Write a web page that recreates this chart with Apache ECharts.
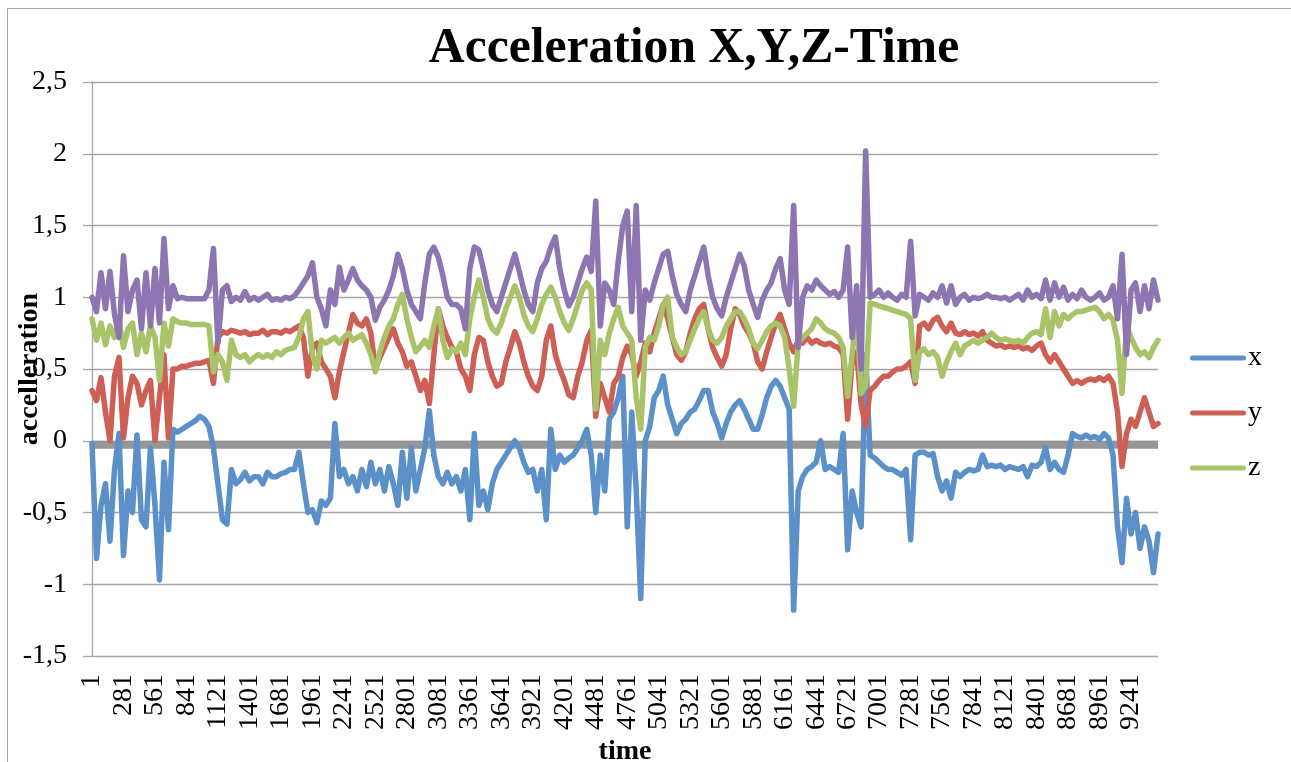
<!DOCTYPE html>
<html><head><meta charset="utf-8">
<script src="https://cdn.jsdelivr.net/npm/echarts@6/dist/echarts.min.js"></script>
<style>html,body{margin:0;padding:0;background:#fff}#c{width:1291px;height:762px}</style>
</head><body><div id="c"></div>
<script>
// sample numbers (time index), every 40th sample
const categories = [
1,41,81,121,161,201,241,281,321,361,
401,441,481,521,561,601,641,681,721,761,
801,841,881,921,961,1001,1041,1081,1121,1161,
1201,1241,1281,1321,1361,1401,1441,1481,1521,1561,
1601,1641,1681,1721,1761,1801,1841,1881,1921,1961,
2001,2041,2081,2121,2161,2201,2241,2281,2321,2361,
2401,2441,2481,2521,2561,2601,2641,2681,2721,2761,
2801,2841,2881,2921,2961,3001,3041,3081,3121,3161,
3201,3241,3281,3321,3361,3401,3441,3481,3521,3561,
3601,3641,3681,3721,3761,3801,3841,3881,3921,3961,
4001,4041,4081,4121,4161,4201,4241,4281,4321,4361,
4401,4441,4481,4521,4561,4601,4641,4681,4721,4761,
4801,4841,4881,4921,4961,5001,5041,5081,5121,5161,
5201,5241,5281,5321,5361,5401,5441,5481,5521,5561,
5601,5641,5681,5721,5761,5801,5841,5881,5921,5961,
6001,6041,6081,6121,6161,6201,6241,6281,6321,6361,
6401,6441,6481,6521,6561,6601,6641,6681,6721,6761,
6801,6841,6881,6921,6961,7001,7041,7081,7121,7161,
7201,7241,7281,7321,7361,7401,7441,7481,7521,7561,
7601,7641,7681,7721,7761,7801,7841,7881,7921,7961,
8001,8041,8081,8121,8161,8201,8241,8281,8321,8361,
8401,8441,8481,8521,8561,8601,8641,8681,8721,8761,
8801,8841,8881,8921,8961,9001,9041,9081,9121,9161,
9201,9241,9281,9321,9361,9401,9441,9481
].map(String);

const xTickLabels = ['1','281','561','841','1121','1401','1681','1961','2241','2521','2801','3081','3361','3641','3921','4201','4481','4761','5041','5321','5601','5881','6161','6441','6721','7001','7281','7561','7841','8121','8401','8681','8961','9241'];
const yTickLabels = {'-1.5':'-1,5','-1':'-1','-0.5':'-0,5','0':'0','0.5':'0,5','1':'1','1.5':'1,5','2':'2','2.5':'2,5'};

const accX = [
-0.02,-0.82,-0.45,-0.3,-0.7,-0.2,0.05,-0.8,-0.35,-0.5,
0.04,-0.55,-0.6,-0.05,-0.45,-0.97,-0.15,-0.62,0.08,0.06,
0.08,0.1,0.12,0.14,0.17,0.15,0.1,-0.05,-0.3,-0.55,
-0.58,-0.2,-0.3,-0.27,-0.22,-0.28,-0.25,-0.25,-0.3,-0.22,
-0.25,-0.25,-0.23,-0.22,-0.2,-0.2,-0.08,-0.3,-0.5,-0.48,
-0.57,-0.42,-0.45,-0.4,0.12,-0.25,-0.2,-0.3,-0.25,-0.35,
-0.2,-0.32,-0.15,-0.3,-0.2,-0.35,-0.18,-0.3,-0.45,-0.08,
-0.4,-0.05,-0.35,-0.2,-0.05,0.21,-0.1,-0.25,-0.3,-0.22,
-0.3,-0.25,-0.35,-0.2,-0.55,0.05,-0.45,-0.35,-0.48,-0.3,
-0.2,-0.15,-0.1,-0.05,0.0,-0.05,-0.15,-0.22,-0.2,-0.35,
-0.2,-0.55,0.08,-0.2,-0.1,-0.15,-0.12,-0.1,-0.05,0.0,
0.08,-0.1,-0.5,-0.1,-0.35,0.15,0.2,0.3,0.45,-0.6,
0.2,-0.35,-1.1,0.0,0.1,0.3,0.35,0.45,0.25,0.15,
0.05,0.12,0.15,0.2,0.22,0.28,0.35,0.35,0.2,0.12,
0.02,0.12,0.2,0.25,0.28,0.22,0.15,0.08,0.08,0.18,
0.3,0.38,0.42,0.38,0.3,0.22,-1.18,-0.35,-0.25,-0.2,
-0.18,-0.15,0.0,-0.2,-0.18,-0.2,-0.22,0.05,-0.76,-0.35,
-0.5,-0.6,0.6,-0.1,-0.12,-0.15,-0.18,-0.2,-0.2,-0.22,
-0.24,-0.2,-0.69,-0.1,-0.08,-0.08,-0.1,-0.09,-0.25,-0.35,
-0.28,-0.4,-0.22,-0.25,-0.22,-0.2,-0.21,-0.2,-0.1,-0.18,
-0.17,-0.18,-0.17,-0.2,-0.18,-0.19,-0.2,-0.18,-0.25,-0.17,
-0.18,-0.15,-0.05,-0.2,-0.15,-0.2,-0.22,-0.1,0.05,0.03,
0.02,0.04,0.02,0.03,0.01,0.05,0.02,-0.1,-0.6,-0.85,
-0.4,-0.65,-0.5,-0.75,-0.6,-0.7,-0.92,-0.65
];
const accY = [
0.35,0.28,0.44,0.2,0.0,0.45,0.58,0.02,0.3,0.45,
0.4,0.25,0.35,0.42,0.0,0.3,0.6,0.02,0.5,0.5,
0.52,0.52,0.53,0.54,0.54,0.55,0.56,0.4,0.72,0.76,
0.75,0.77,0.76,0.75,0.76,0.74,0.75,0.75,0.77,0.74,
0.76,0.76,0.75,0.77,0.76,0.78,0.8,0.72,0.45,0.65,
0.68,0.55,0.5,0.45,0.3,0.48,0.62,0.75,0.88,0.82,
0.8,0.85,0.75,0.5,0.58,0.65,0.72,0.78,0.68,0.62,
0.52,0.55,0.45,0.35,0.42,0.26,0.6,0.92,0.8,0.72,
0.65,0.62,0.5,0.45,0.35,0.6,0.72,0.7,0.55,0.45,
0.38,0.4,0.55,0.65,0.76,0.68,0.55,0.45,0.38,0.35,
0.45,0.7,0.8,0.6,0.5,0.42,0.32,0.3,0.45,0.55,
0.7,0.77,0.17,0.4,0.3,0.2,0.4,0.45,0.58,0.66,
0.6,0.45,0.55,0.68,0.62,0.75,0.85,0.95,0.85,0.72,
0.6,0.56,0.62,0.75,0.85,0.92,0.95,0.78,0.65,0.58,
0.52,0.6,0.78,0.92,0.88,0.8,0.75,0.68,0.55,0.5,
0.62,0.72,0.82,0.88,0.78,0.68,0.62,0.7,0.68,0.72,
0.68,0.7,0.68,0.67,0.68,0.66,0.65,0.6,0.15,0.55,
0.62,0.25,0.1,0.35,0.38,0.42,0.45,0.45,0.48,0.5,
0.5,0.52,0.55,0.4,0.8,0.82,0.78,0.84,0.86,0.8,
0.76,0.82,0.75,0.74,0.76,0.74,0.75,0.73,0.76,0.7,
0.68,0.66,0.67,0.65,0.66,0.65,0.66,0.64,0.65,0.63,
0.66,0.68,0.6,0.55,0.6,0.55,0.5,0.45,0.4,0.42,
0.4,0.42,0.43,0.42,0.44,0.42,0.45,0.4,0.2,-0.18,
0.05,0.15,0.1,0.2,0.3,0.2,0.1,0.12
];
const accZ = [
0.85,0.7,0.82,0.67,0.8,0.72,0.84,0.65,0.78,0.82,
0.6,0.75,0.62,0.8,0.72,0.42,0.82,0.66,0.85,0.83,
0.82,0.82,0.81,0.81,0.81,0.81,0.8,0.48,0.6,0.55,
0.42,0.7,0.6,0.58,0.6,0.55,0.58,0.6,0.58,0.6,
0.58,0.62,0.6,0.63,0.64,0.65,0.72,0.85,0.9,0.6,
0.5,0.7,0.68,0.7,0.72,0.68,0.72,0.75,0.7,0.72,
0.74,0.68,0.6,0.48,0.62,0.72,0.8,0.85,0.95,1.02,
0.85,0.72,0.62,0.66,0.7,0.65,0.8,0.92,0.7,0.58,
0.64,0.62,0.68,0.6,0.85,1.0,1.12,1.0,0.85,0.78,
0.75,0.82,0.92,1.0,1.08,1.0,0.88,0.8,0.76,0.85,
0.95,1.02,1.07,1.0,0.9,0.82,0.77,0.85,0.95,1.05,
1.1,1.05,0.22,0.7,0.6,0.75,0.85,0.93,0.8,0.75,
0.7,0.3,0.08,0.65,0.72,0.7,0.8,0.95,1.0,0.72,
0.65,0.6,0.62,0.7,0.78,0.85,0.9,0.78,0.7,0.68,
0.72,0.8,0.85,0.9,0.9,0.85,0.78,0.68,0.64,0.7,
0.76,0.8,0.82,0.8,0.72,0.5,0.24,0.68,0.72,0.75,
0.78,0.85,0.82,0.78,0.76,0.75,0.72,0.65,0.31,0.6,
0.92,0.33,0.38,0.96,0.95,0.94,0.93,0.92,0.91,0.9,
0.89,0.88,0.85,0.42,0.62,0.64,0.6,0.62,0.58,0.45,
0.55,0.62,0.68,0.6,0.66,0.68,0.7,0.68,0.7,0.72,
0.75,0.72,0.7,0.71,0.7,0.69,0.7,0.68,0.72,0.75,
0.76,0.74,0.92,0.72,0.9,0.8,0.88,0.85,0.88,0.9,
0.9,0.91,0.92,0.93,0.9,0.85,0.88,0.84,0.7,0.33,
0.8,0.72,0.65,0.6,0.62,0.58,0.65,0.7
];
const accMag = [
1.0,0.9,1.17,0.92,1.18,0.88,0.72,1.29,0.9,1.05,
1.12,0.78,1.17,0.8,1.2,0.82,1.41,0.92,1.08,0.99,
1.0,0.99,0.99,0.99,0.99,0.99,1.05,1.34,0.68,1.05,
1.08,0.97,1.0,0.98,1.04,0.98,1.0,0.98,1.0,1.02,
0.98,0.99,0.98,1.0,0.99,1.01,1.05,1.1,1.15,1.24,
1.0,0.92,0.8,1.05,0.95,1.21,1.05,1.12,1.2,1.12,
1.08,1.05,1.0,0.84,0.93,0.98,1.05,1.15,1.3,1.2,
1.05,0.95,0.9,0.85,1.1,1.3,1.35,1.28,1.15,1.0,
0.95,0.95,0.92,0.78,1.2,1.35,1.33,1.2,1.05,0.95,
0.9,1.0,1.1,1.2,1.3,1.18,1.05,0.95,0.9,1.1,
1.2,1.25,1.35,1.42,1.2,1.05,0.94,1.0,1.1,1.2,
1.28,1.18,1.67,0.8,1.1,1.05,0.95,1.25,1.5,1.6,
0.9,1.64,0.7,1.05,0.98,1.1,1.2,1.3,1.32,1.15,
1.02,0.95,0.9,1.05,1.15,1.25,1.35,1.15,1.0,0.92,
0.87,1.0,1.1,1.2,1.3,1.22,1.05,0.95,0.86,0.98,
1.05,1.1,1.2,1.27,1.05,0.95,1.64,0.65,1.0,1.08,
1.05,1.12,1.08,1.05,1.02,1.04,1.0,1.05,1.35,0.72,
1.08,0.5,2.02,1.0,1.02,1.05,1.0,1.03,1.0,0.98,
1.02,1.0,1.39,0.87,1.02,1.0,0.98,1.03,1.0,1.08,
0.96,1.08,0.95,1.0,1.02,0.98,1.0,0.99,1.0,1.02,
1.0,1.0,0.99,1.0,0.98,1.0,1.02,0.98,1.05,1.0,
1.02,0.99,1.12,0.98,1.1,1.0,1.07,0.98,1.02,0.99,
1.05,1.0,0.98,1.0,1.03,0.98,1.0,1.08,0.85,1.3,
0.6,1.05,1.1,0.9,1.08,0.92,1.12,0.98
];

const FONT = 'Liberation Serif';
const chart = echarts.init(document.getElementById('c'), null, {renderer: 'canvas'});
const lineSeries = (name, data, color) => ({
  name: name, type: 'line', data: data, z: 3,
  showSymbol: false, symbol: 'none', animation: false,
  lineStyle: {color: color, width: 5.5, cap: 'round', join: 'round'},
  itemStyle: {color: color}
});
chart.setOption({
  animation: false,
  backgroundColor: '#ffffff',
  title: {
    text: 'Acceleration X,Y,Z-Time', left: 689, top: 19, textAlign: 'center',
    textStyle: {fontFamily: FONT, fontSize: 49.6, fontWeight: 'bold', color: '#000'}
  },
  graphic: [{type: 'rect', z: -10, silent: true,
    shape: {x: 7.5, y: 8.5, width: 1400, height: 900},
    style: {fill: 'none', stroke: '#A6A6A6', lineWidth: 1}}],
  legend: {
    data: ['x', 'y', 'z'], orient: 'vertical', left: 1185, top: 339,
    itemWidth: 56, itemHeight: 5, itemGap: 27,
    icon: 'path://M2.5,0 L53.5,0 A2.5,2.5 0 0 1 53.5,5 L2.5,5 A2.5,2.5 0 0 1 2.5,0 Z',
    textStyle: {fontFamily: FONT, fontSize: 28, color: '#000', padding: [0, 0, 0, -3]}
  },
  grid: {left: 92, right: 133, top: 82, bottom: 106, containLabel: false, outerBoundsMode: 'none'},
  xAxis: {
    type: 'category', data: categories, boundaryGap: false,
    name: 'time', nameLocation: 'middle', nameGap: 72,
    nameTextStyle: {fontFamily: FONT, fontSize: 28, fontWeight: 'bold', color: '#000'},
    axisLine: {show: false, onZero: false},
    axisTick: {show: false},
    splitLine: {show: false},
    axisLabel: {
      rotate: 90, margin: 18, fontFamily: FONT, fontSize: 28, color: '#000',
      interval: (idx, val) => xTickLabels.includes(val)
    }
  },
  yAxis: {
    type: 'value', min: -1.5, max: 2.5, interval: 0.5,
    name: 'accelleration', nameLocation: 'middle', nameGap: 48, nameMoveOverlap: false,
    nameTextStyle: {fontFamily: FONT, fontSize: 28, fontWeight: 'bold', color: '#000'},
    axisLine: {show: true, lineStyle: {color: '#A6A6A6', width: 1.3}},
    axisTick: {show: true, length: 9, lineStyle: {color: '#A6A6A6', width: 1.3}},
    splitLine: {show: true, lineStyle: {color: '#A6A6A6', width: 1.3}},
    axisLabel: {
      margin: 25, fontFamily: FONT, fontSize: 28, color: '#000',
      formatter: v => yTickLabels[String(v)] !== undefined ? yTickLabels[String(v)] : String(v).replace('.', ',')
    }
  },
  series: [
    {name: 'zeroAxis', type: 'line', data: [], z: 1, silent: true,
      markArea: {silent: true, itemStyle: {color: '#969696'},
        data: [[{yAxis: 0}, {yAxis: -0.056}]]}},
    lineSeries('x', accX, '#5B90C8'),
    lineSeries('y', accY, '#CD5F55'),
    lineSeries('z', accZ, '#A9C368'),
    lineSeries('magnitude', accMag, '#8D75B1')
  ]
});
</script>
</body></html>
